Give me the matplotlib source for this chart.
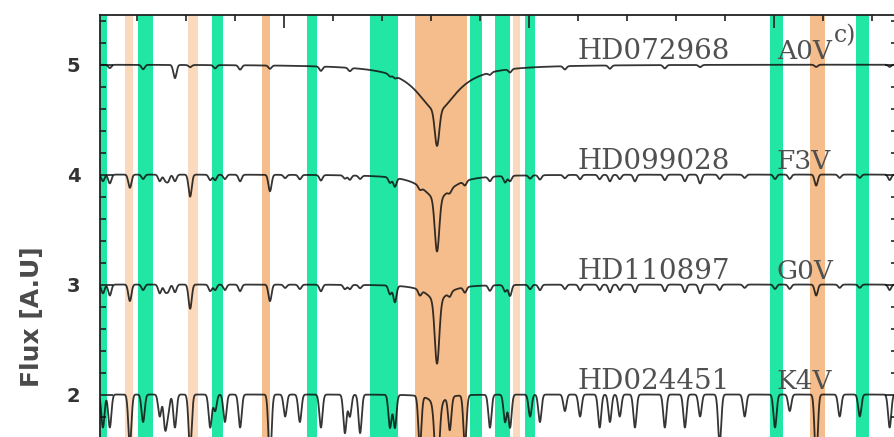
import numpy as np
import matplotlib.pyplot as plt
from matplotlib.ticker import MultipleLocator

# stars, stacked with an offset of one flux unit each
star_ids = ["HD072968", "HD099028", "HD110897", "HD024451"]
spec_types = ["A0V", "F3V", "G0V", "K4V"]
offsets = [5, 4, 3, 2]

# H-beta: broad wings + narrow core, per star
hbeta = 4861.3
hb_wing_depth = [0.42, 0.22, 0.15, 0.10]
hb_wing_gamma = [5.0, 3.5, 2.5, 1.5]
hb_core_depth = [0.32, 0.48, 0.57, 0.65]

# metal lines (Angstrom) and their depths in each star
line_wl = [4793.1, 4794.5, 4798.6, 4801.3, 4804.7, 4805.8, 4806.4, 4807.8,
           4810.9, 4815.0, 4816.0, 4818.0, 4821.1, 4827.2, 4830.3, 4833.3,
           4837.6, 4842.5, 4843.5, 4845.6, 4851.7, 4852.7, 4857.8, 4863.9,
           4867.0, 4872.1, 4875.2, 4876.2, 4880.3, 4882.3, 4887.4, 4890.5,
           4894.5, 4896.6, 4898.6, 4901.7, 4907.8, 4911.9, 4915.0, 4919.0,
           4924.1, 4930.3, 4933.3, 4938.7, 4943.5, 4947.6, 4953.7]
depth_a0v = [0.00, 0.03, 0.00, 0.04, 0.00, 0.00, 0.00, 0.12,
             0.02, 0.00, 0.03, 0.00, 0.04, 0.03, 0.00, 0.00,
             0.04, 0.00, 0.03, 0.00, 0.02, 0.02, 0.00, 0.00,
             0.00, 0.02, 0.00, 0.03, 0.00, 0.00, 0.03, 0.00,
             0.00, 0.03, 0.00, 0.00, 0.03, 0.00, 0.02, 0.00,
             0.00, 0.00, 0.00, 0.02, 0.00, 0.00, 0.02]
depth_f3v = [0.06, 0.08, 0.12, 0.04, 0.06, 0.05, 0.06, 0.06,
             0.20, 0.05, 0.05, 0.04, 0.06, 0.15, 0.03, 0.04,
             0.05, 0.03, 0.04, 0.03, 0.05, 0.08, 0.03, 0.03,
             0.04, 0.04, 0.06, 0.05, 0.03, 0.04, 0.03, 0.04,
             0.04, 0.06, 0.04, 0.06, 0.05, 0.06, 0.08, 0.04,
             0.03, 0.04, 0.04, 0.10, 0.03, 0.03, 0.05]
depth_g0v = [0.08, 0.10, 0.15, 0.05, 0.08, 0.06, 0.06, 0.07,
             0.22, 0.06, 0.05, 0.05, 0.06, 0.15, 0.03, 0.04,
             0.06, 0.04, 0.04, 0.03, 0.08, 0.15, 0.05, 0.04,
             0.05, 0.05, 0.06, 0.10, 0.04, 0.05, 0.04, 0.05,
             0.05, 0.07, 0.05, 0.07, 0.06, 0.07, 0.08, 0.05,
             0.03, 0.04, 0.04, 0.10, 0.03, 0.03, 0.05]
depth_k4v = [0.30, 0.30, 0.45, 0.25, 0.20, 0.30, 0.15, 0.30,
             0.50, 0.30, 0.15, 0.25, 0.30, 0.60, 0.20, 0.25,
             0.30, 0.35, 0.20, 0.35, 0.30, 0.30, 0.45, 0.30,
             0.45, 0.30, 0.25, 0.30, 0.20, 0.25, 0.15, 0.20,
             0.30, 0.25, 0.20, 0.30, 0.30, 0.30, 0.20, 0.45,
             0.20, 0.30, 0.15, 0.60, 0.20, 0.20, 0.30]
depths = [depth_a0v, depth_f3v, depth_g0v, depth_k4v]

# highlighted wavelength windows
green_bands = [(4792.3, 4794.0), (4800.3, 4803.3), (4815.4, 4817.6),
               (4834.7, 4836.8), (4847.6, 4853.3), (4868.0, 4870.5),
               (4873.1, 4876.2), (4879.2, 4881.3), (4929.2, 4931.9),
               (4946.9, 4949.4)]
orange_bands = [(4825.6, 4827.2), (4856.8, 4867.4), (4937.4, 4940.5)]
pale_bands = [(4797.6, 4799.2), (4810.5, 4812.5), (4876.8, 4878.2)]

GREEN = "#22e6a4"
ORANGE = "#f5bd8b"
PALE = "#fad9bd"

wl = np.arange(4790.0, 4958.0, 0.02)


def spectrum(i):
    f = np.ones_like(wl)
    g = hb_wing_gamma[i]
    f -= hb_wing_depth[i] * g**2 / ((wl - hbeta)**2 + g**2)
    f -= hb_core_depth[i] * np.exp(-0.5 * ((wl - hbeta) / 0.45)**2)
    for c, d in zip(line_wl, depths[i]):
        f -= d * np.exp(-0.5 * ((wl - c) / 0.32)**2)
    return f


fig = plt.figure(figsize=(8.95, 4.37), dpi=100)
ax = fig.add_axes([100 / 895, -0.1545, 797 / 895, 1.1201])

for a, b in green_bands:
    ax.axvspan(a, b, color=GREEN, lw=0, zorder=1)
for a, b in orange_bands:
    ax.axvspan(a, b, color=ORANGE, lw=0, zorder=1)
for a, b in pale_bands:
    ax.axvspan(a, b, color=PALE, lw=0, zorder=1)

for i, off in enumerate(offsets):
    ax.plot(wl, spectrum(i) - 1 + off, color="#111111", lw=1.3,
            alpha=0.85, zorder=3)
    ax.text(4890.05, off + 0.05, star_ids[i], family="DejaVu Serif",
            fontsize=20, color="#505050", ha="left", va="baseline", zorder=4)
    ax.text(4930.7, off + 0.05, spec_types[i], family="DejaVu Serif",
            fontsize=19, color="#505050", ha="left", va="baseline", zorder=4)

ax.text(4942.3, 5.2, "c)", family="DejaVu Serif", fontsize=17,
        color="#505050", ha="left", va="baseline", zorder=4)

ax.set_xlim(4792.5, 4955.2)
ax.set_ylim(1.0, 5.45)

ax.xaxis.set_major_locator(MultipleLocator(50, offset=30))
ax.xaxis.set_minor_locator(MultipleLocator(10))
ax.set_yticks([2, 3, 4, 5])
ax.yaxis.set_minor_locator(MultipleLocator(0.2))
ax.tick_params(which="both", direction="in", top=True, right=True,
               labelbottom=False, width=1.2, color="#222222")
ax.tick_params(which="major", length=9)
ax.tick_params(which="minor", length=4.5)
ax.tick_params(axis="y", pad=14, labelsize=14, labelcolor="#333333")
for lab in ax.get_yticklabels():
    lab.set_fontweight("bold")
for sp in ax.spines.values():
    sp.set_linewidth(1.3)
    sp.set_color("#222222")

ax.set_ylabel("Flux [A.U]", fontsize=18, fontweight="bold", color="#4a4a4a")
ax.yaxis.set_label_coords(-0.07, 0.384)

fig.savefig("out.png", dpi=100)
